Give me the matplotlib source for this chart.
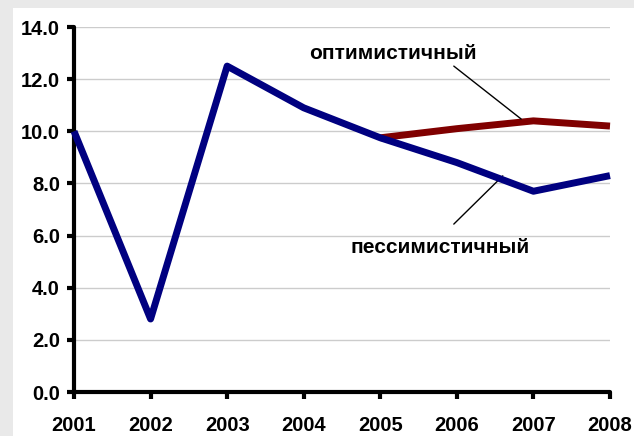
import matplotlib
matplotlib.use("Agg")
import matplotlib.pyplot as plt
from matplotlib.patches import Rectangle

years = [2001, 2002, 2003, 2004, 2005, 2006, 2007, 2008]
pessimistic = [10.0, 2.8, 12.5, 10.9, 9.75, 8.8, 7.7, 8.3]
opt_years = [2005, 2006, 2007, 2008]
optimistic = [9.75, 10.1, 10.4, 10.2]
yticks = [0, 2, 4, 6, 8, 10, 12, 14]

plt.rcParams['font.family'] = ['Liberation Sans', 'DejaVu Sans']
plt.rcParams['font.weight'] = 'bold'

fig = plt.figure(figsize=(6.34, 4.36), dpi=100, facecolor='#e9e9e9')
fig.patches.append(Rectangle((13/634, 0), 1 - 13/634, 1 - 8/436, transform=fig.transFigure,
                             facecolor='white', edgecolor='none', zorder=-10))
ax = fig.add_axes([74/634, 1 - 392/436, (610 - 74)/634, (392 - 27)/436])
ax.set_facecolor('none')

ax.plot(opt_years, optimistic, color='#800000', lw=5, solid_capstyle='butt', zorder=3, clip_on=False)
ax.plot(years, pessimistic, color='#000080', lw=5, solid_capstyle='butt', zorder=4, clip_on=False)

ax.set_xlim(2001, 2008)
ax.set_ylim(0, 14)
ax.set_yticks(yticks)
ax.set_yticklabels([f"{v:.1f}" for v in yticks])
ax.set_xticks(years)
ax.set_xticklabels([str(y) for y in years])
ax.grid(axis='y', color='#cccccc', lw=1)
ax.set_axisbelow(True)
for s in ['top', 'right']:
    ax.spines[s].set_visible(False)
for s in ['left', 'bottom']:
    ax.spines[s].set_linewidth(3)
    ax.spines[s].set_capstyle('round')
ax.tick_params(axis='both', width=3, length=5, direction='out', labelsize=14.5)
ax.tick_params(axis='x', pad=12)
ax.tick_params(axis='y', pad=5)

ax.text(2005.17, 13.0, 'оптимистичный', fontsize=15, fontweight='bold', ha='center', va='center')
ax.annotate('', xy=(2006.84, 10.47), xytext=(2005.96, 12.5),
            arrowprops=dict(arrowstyle='-', color='black', lw=1, shrinkA=0, shrinkB=0))
ax.text(2005.78, 5.56, 'пессимистичный', fontsize=15, fontweight='bold', ha='center', va='center')
ax.annotate('', xy=(2006.6, 8.29), xytext=(2005.96, 6.44),
            arrowprops=dict(arrowstyle='-', color='black', lw=1, shrinkA=0, shrinkB=0))

fig.savefig('out.png', dpi=100, facecolor=fig.get_facecolor())
